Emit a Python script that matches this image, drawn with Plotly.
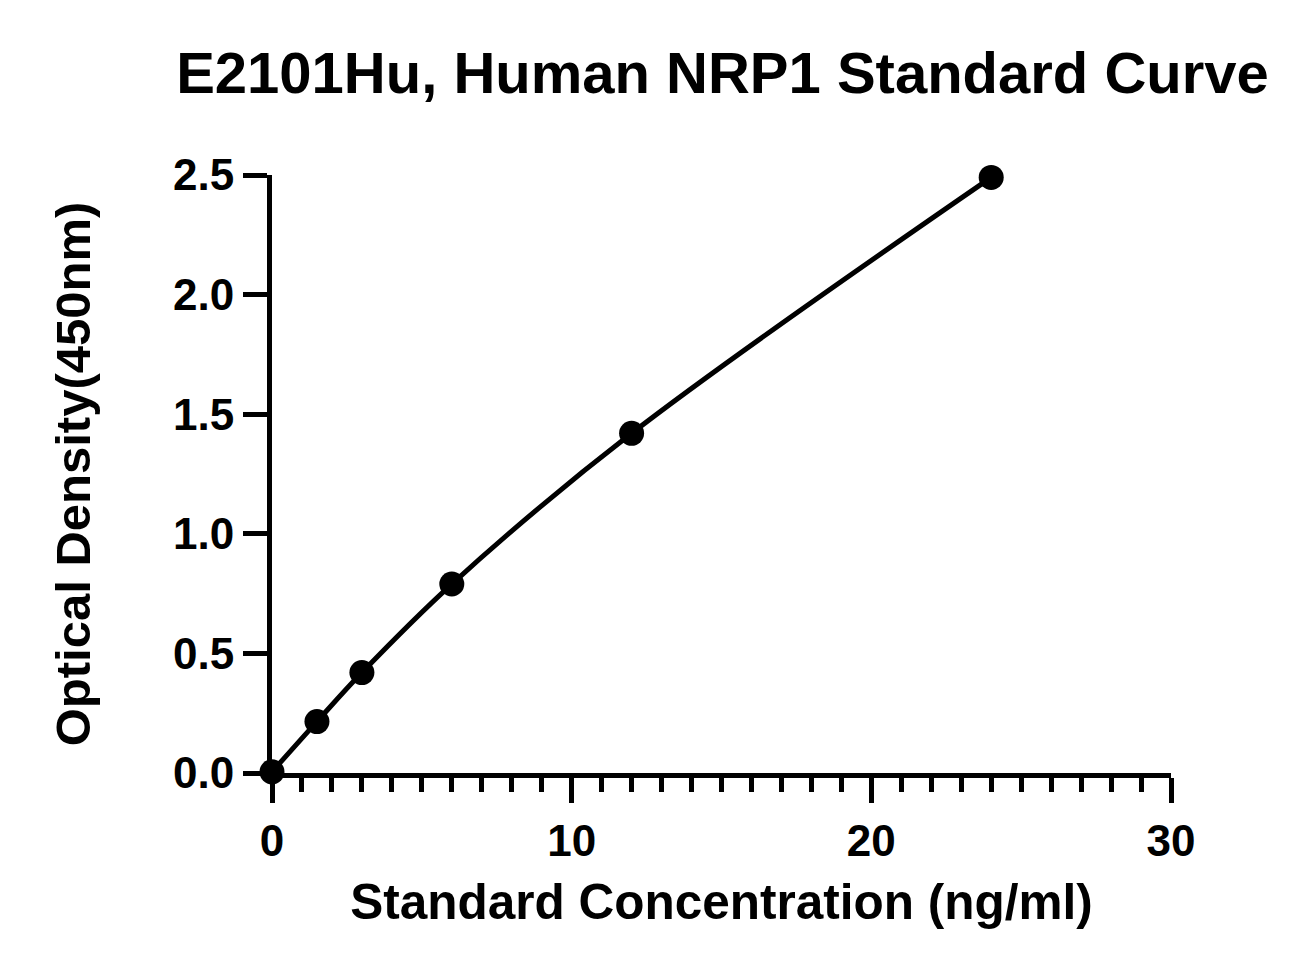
import plotly.graph_objects as go

# standard curve readings
conc = [0, 1.5, 3, 6, 12, 24]
od = [0.005, 0.215, 0.42, 0.79, 1.42, 2.49]

x_ticks = [0, 10, 20, 30]
y_ticks = [0.0, 0.5, 1.0, 1.5, 2.0, 2.5]
y_ticklabels = ["0.0", "0.5", "1.0", "1.5", "2.0", "2.5"]

font_family = "Liberation Sans, Arial, sans-serif"

fig = go.Figure()

# fitted curve
fig.add_trace(go.Scatter(
    x=conc, y=od,
    mode="lines",
    line=dict(color="black", width=5, shape="spline", smoothing=1.0),
    cliponaxis=False,
    showlegend=False,
    hoverinfo="skip",
))

# measured points
fig.add_trace(go.Scatter(
    x=conc, y=od,
    mode="markers",
    marker=dict(color="black", size=25),
    cliponaxis=False,
    showlegend=False,
))

fig.update_layout(
    width=1311, height=975,
    paper_bgcolor="white",
    plot_bgcolor="white",
    margin=dict(l=264, r=148, t=167, b=210),
    font=dict(family=font_family, color="black", size=44, weight=700),
    title=dict(
        text="E2101Hu, Human NRP1 Standard Curve",
        font=dict(size=58, family=font_family, weight=700),
        x=0.545, xanchor="center",
        y=0.934, yanchor="middle",
    ),
)

fig.update_xaxes(
    range=[0, 30],
    tickmode="array", tickvals=x_ticks,
    ticks="outside", ticklen=25, tickwidth=5, tickcolor="black",
    minor=dict(dtick=1, ticks="outside", ticklen=14, tickwidth=5, tickcolor="black", showgrid=False),
    showline=True, linewidth=5, linecolor="black",
    showgrid=False, zeroline=False,
    tickfont=dict(size=44),
    title=dict(text="Standard Concentration (ng/ml)", font=dict(size=49.5), standoff=22),
)

fig.update_yaxes(
    range=[0, 2.5],
    tickmode="array", tickvals=y_ticks, ticktext=y_ticklabels,
    ticks="outside", ticklen=24, tickwidth=5, tickcolor="black",
    showline=True, linewidth=5, linecolor="black",
    showgrid=False, zeroline=False,
    tickfont=dict(size=44),
    title=dict(text="Optical Density(450nm)", font=dict(size=49), standoff=68),
)

fig.write_html("out.html")
